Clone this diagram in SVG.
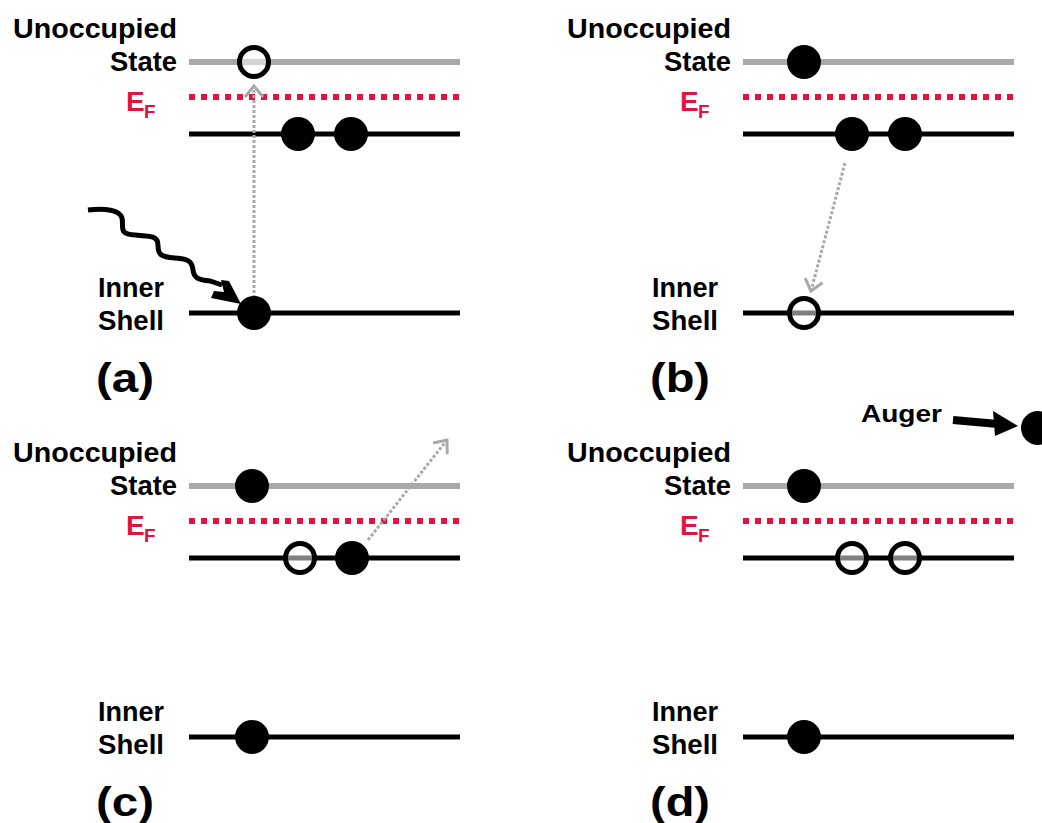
<svg xmlns="http://www.w3.org/2000/svg" width="1042" height="823" viewBox="0 0 1042 823">
<style>
.t{font-family:"Liberation Sans",Arial,sans-serif;font-weight:bold;fill:#000}
.lab{font-size:27px;text-anchor:end}
.ef{font-family:"Liberation Sans",Arial,sans-serif;font-weight:bold;fill:#e3123f}
.pl{font-size:40px}
.gray{stroke:#a9a9a9;stroke-width:6}
.blk{stroke:#000;stroke-width:5}
.red{stroke:#e3123f;stroke-width:6;stroke-dasharray:6 6}
.full{fill:#000}
.open{fill:#fff;fill-opacity:0.5;stroke:#000;stroke-width:5}
.dot{stroke:#a9a9a9;stroke-width:3;stroke-dasharray:3 2;fill:none}
</style>
<defs>
<marker id="chev" markerUnits="userSpaceOnUse" viewBox="0 0 14 20" refX="12" refY="10" markerWidth="14" markerHeight="20" orient="auto">
<path d="M1,1 L12,10 L1,19" fill="none" stroke="#a9a9a9" stroke-width="3"/>
</marker>
<g id="panelLevels">
<line x1="189" y1="62" x2="460" y2="62" class="gray"/>
<line x1="189" y1="97" x2="460" y2="97" class="red"/>
<line x1="189" y1="134" x2="460" y2="134" class="blk"/>
<line x1="189" y1="313" x2="460" y2="313" class="blk"/>
<text x="177" y="38" class="t lab" textLength="164" lengthAdjust="spacingAndGlyphs">Unoccupied</text>
<text x="177" y="71" class="t lab" textLength="67" lengthAdjust="spacingAndGlyphs">State</text>
<text x="126" y="111" class="ef" font-size="28">E</text>
<text x="144" y="118" class="ef" font-size="19">F</text>
<text x="164" y="297" class="t lab" textLength="66" lengthAdjust="spacingAndGlyphs">Inner</text>
<text x="164" y="330" class="t lab" textLength="66" lengthAdjust="spacingAndGlyphs">Shell</text>
</g>
</defs>

<g id="panel-a">
<use href="#panelLevels"/>
<text x="96" y="392" class="t pl" textLength="58" lengthAdjust="spacingAndGlyphs">(a)</text>
</g>
<g id="panel-b">
<use href="#panelLevels" transform="translate(554,0)"/>
<text x="650" y="392" class="t pl" textLength="60" lengthAdjust="spacingAndGlyphs">(b)</text>
</g>
<g id="panel-c">
<use href="#panelLevels" transform="translate(0,424)"/>
<text x="96" y="816" class="t pl" textLength="58" lengthAdjust="spacingAndGlyphs">(c)</text>
</g>
<g id="panel-d">
<use href="#panelLevels" transform="translate(554,424)"/>
<text x="650" y="816" class="t pl" textLength="60" lengthAdjust="spacingAndGlyphs">(d)</text>
</g>

<g id="connectors">
<line x1="254" y1="298" x2="254" y2="86" class="dot" marker-end="url(#chev)"/>
<line x1="845" y1="163" x2="811" y2="291" class="dot" marker-end="url(#chev)"/>
<line x1="368" y1="540" x2="447" y2="440" class="dot" marker-end="url(#chev)"/>
<path d="M88,210 C105,208 120,210 122,218 C124,228 118,234 135,235 C150,236 158,236 158,245 C158,254 160,257 175,258 C190,259 192,262 193,270 C194,278 198,280 210,281 L222,285" fill="none" stroke="#000" stroke-width="5"/>
<polygon points="241,304 211,298 214,291 224,292 221,280 229,281" fill="#000"/>
<line x1="953" y1="420" x2="998" y2="424" stroke="#000" stroke-width="8"/>
<polygon points="1018,426 993,411 995,436" fill="#000"/>
</g>

<g id="electrons-a">
<circle cx="254" cy="62" r="14.5" class="open"/>
<circle cx="298" cy="134" r="17" class="full"/>
<circle cx="351" cy="134" r="17" class="full"/>
<circle cx="254" cy="313" r="17" class="full"/>
</g>
<g id="electrons-b">
<circle cx="804" cy="62" r="17" class="full"/>
<circle cx="852" cy="134" r="17" class="full"/>
<circle cx="905" cy="134" r="17" class="full"/>
<circle cx="804" cy="313" r="14.5" class="open"/>
</g>
<g id="electrons-c">
<circle cx="252" cy="486" r="17" class="full"/>
<circle cx="300" cy="558" r="14.5" class="open"/>
<circle cx="352" cy="558" r="17" class="full"/>
<circle cx="252" cy="737" r="17" class="full"/>
</g>
<g id="electrons-d">
<circle cx="804" cy="486" r="17" class="full"/>
<circle cx="852" cy="558" r="14.5" class="open"/>
<circle cx="905" cy="558" r="14.5" class="open"/>
<circle cx="804" cy="737" r="17" class="full"/>
</g>
<g id="auger">
<text x="861" y="422" class="t" font-size="24" textLength="81" lengthAdjust="spacingAndGlyphs">Auger</text>
<circle cx="1038" cy="428" r="17" class="full"/>
</g>
</svg>
